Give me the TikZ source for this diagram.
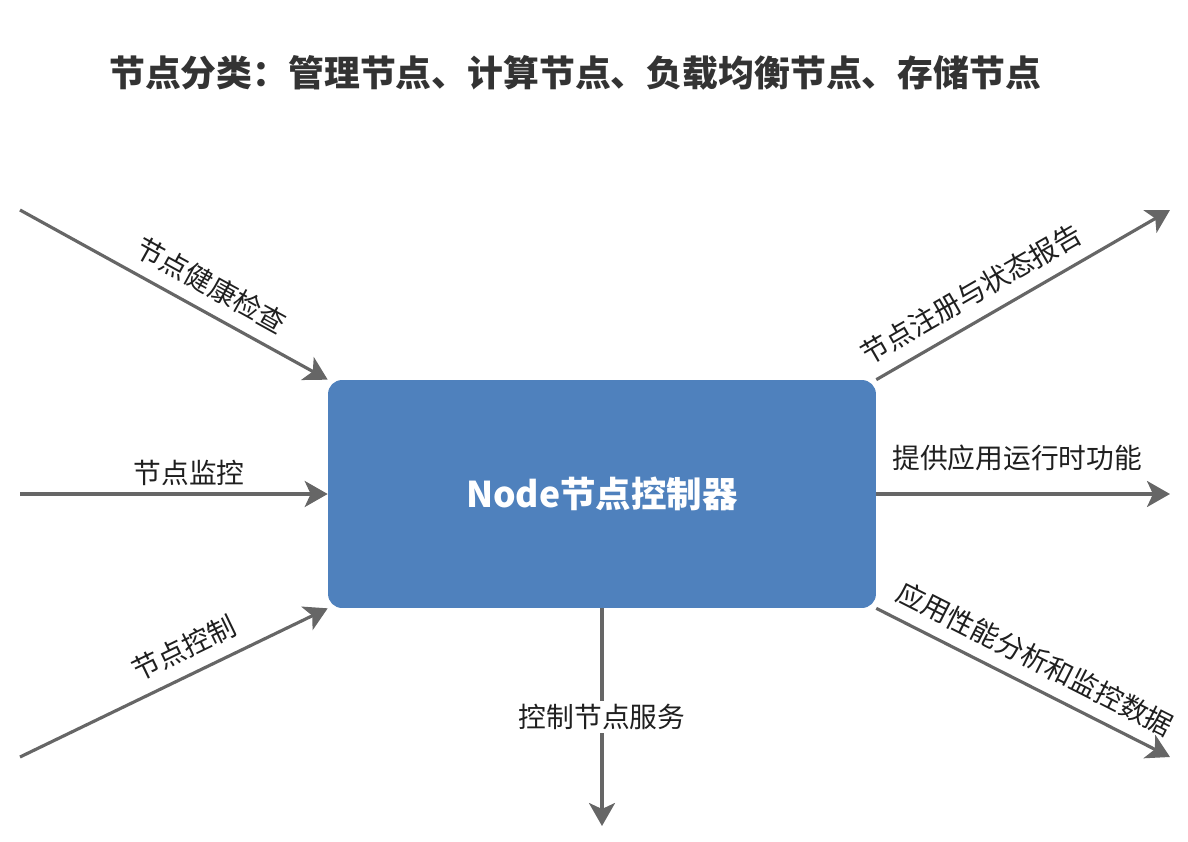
\documentclass[tikz,border=0pt]{standalone}
\usepackage{fontspec}
\setmainfont{Noto Sans CJK SC}
\usepackage{tikz}
\usetikzlibrary{arrows.meta}
\definecolor{boxblue}{HTML}{4F81BD}
\definecolor{linegray}{HTML}{666666}
\definecolor{titlegray}{HTML}{333333}

\begin{document}
\begin{tikzpicture}[x=0.02cm, y=-0.02cm,
    flow/.style={draw=linegray, line width=1.8pt,
      -{Stealth[length=0.46cm, width=0.52cm, inset=0.12cm]}},
    lbl/.style={font=\fontsize{15.8}{18}\selectfont, text=black!88, inner sep=2pt}]
  \useasboundingbox (0,0) rectangle (1188,842);

  \node[anchor=west, text=titlegray, font=\bfseries\fontsize{20.4}{24}\selectfont] (title) at (103,73)
    {节点分类：管理节点、计算节点、负载均衡节点、存储节点};

  \node[fill=boxblue, rounded corners=0.28cm, minimum width=10.96cm, minimum height=4.56cm,
    text=white, font=\bfseries\fontsize{20.2}{23}\selectfont] (ctrl) at (602,494) {Node节点控制器};

  \coordinate (inA) at (20,210);
  \coordinate (inB) at (20,494);
  \coordinate (inC) at (20,757);
  \coordinate (outA) at (1170,210);
  \coordinate (outB) at (1170,494);
  \coordinate (outC) at (1170,757);
  \coordinate (outD) at (602,826);

  % inputs
  \draw[flow] (inA) -- node[lbl, sloped, above=5pt, pos=0.58] (lA) {节点健康检查} (ctrl.north west);
  \draw[flow] (inB) -- node[lbl, above=2pt, pos=0.55] (lB) {节点监控} (ctrl.west);
  \draw[flow] (inC) -- node[lbl, sloped, above=5pt, pos=0.57] (lC) {节点控制} (ctrl.south west);

  % outputs
  \draw[flow] (ctrl.north east) -- node[lbl, sloped, above=5pt, pos=0.37] (lD) {节点注册与状态报告} (outA);
  \draw[flow] (ctrl.east) -- node[lbl, above=10pt, pos=0.48] (lE) {提供应用运行时功能} (outB);
  \draw[flow] (ctrl.south east) -- node[lbl, sloped, above=5pt, pos=0.5] (lF) {应用性能分析和监控数据} (outC);
  \draw[flow] (ctrl.south) -- node[lbl, fill=white, pos=0.5] (lG) {控制节点服务} (outD);
\end{tikzpicture}
\end{document}
